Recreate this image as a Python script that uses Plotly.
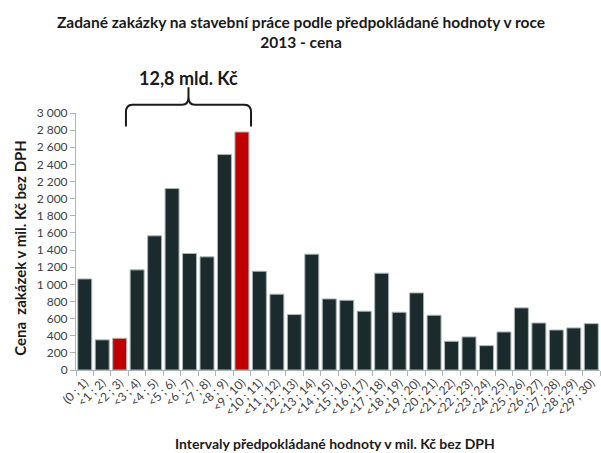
import plotly.graph_objects as go

categories = ["(0 ; 1)"] + [f"<{i} ; {i+1})" for i in range(1, 30)]
values = [1063, 352, 370, 1169, 1566, 2118, 1360, 1321, 2515, 2778,
          1153, 885, 647, 1352, 830, 814, 686, 1130, 674, 900,
          639, 335, 386, 284, 444, 725, 549, 467, 491, 541]
highlight = [2, 9]
y_ticks = list(range(0, 3001, 200))
y_tick_labels = [f"{v:,}".replace(",", " ") for v in y_ticks]

DARK = "#1b2a2c"
RED = "#c00000"
colors = [RED if i in highlight else DARK for i in range(len(values))]

FONT = "Lato, 'Open Sans', sans-serif"

fig = go.Figure(go.Bar(
    x=categories, y=values,
    marker=dict(color=colors, line=dict(color="#a9b6b6", width=1)),
))

fig.update_layout(
    width=601, height=453,
    margin=dict(l=76, r=1, t=113, b=83, autoexpand=False),
    paper_bgcolor="white", plot_bgcolor="white",
    bargap=0.2,
    showlegend=False,
    font=dict(family=FONT, color="#404040", size=11),
    xaxis=dict(
        type="category", tickangle=-45, showgrid=False, automargin=False,
        showline=True, linecolor="#a9b6b6", linewidth=1,
        ticks="outside", tickson="boundaries", ticklen=5, tickcolor="#a9b6b6",
        tickfont=dict(family=FONT, size=12, color="#404040"),
    ),
    yaxis=dict(
        range=[0, 3000], showgrid=False, zeroline=False, automargin=False,
        showline=True, linecolor="#a9b6b6", linewidth=1,
        ticks="outside", ticklen=5, tickcolor="#a9b6b6",
        tickvals=y_ticks, ticktext=y_tick_labels,
        tickfont=dict(family=FONT, size=12, color="#404040"),
    ),
)

# title as annotation (centered on the page)
fig.add_annotation(
    text="<b>Zadané zakázky na stavební práce podle předpokládané hodnoty v roce<br>2013 - cena</b>",
    xref="paper", yref="paper", x=(301 - 76) / 524, y=(370 - 11) / 257,
    xanchor="center", yanchor="top", showarrow=False,
    font=dict(family=FONT, size=15.5, color="#1a1a1a"))

n = len(categories)
def dom(i):
    return (i + 0.5) / n

xl, xr = dom(2.36), dom(9.52)
xc = (xl + xr) / 2
yb, yt, ys = 0.947, 1.032, 1.10
cx, cy = 0.012, 0.03
path = (f"M {xl},{yb} L {xl},{yt-cy} Q {xl},{yt} {xl+cx},{yt} "
        f"L {xc-cx},{yt} Q {xc},{yt} {xc},{yt+cy} L {xc},{ys} "
        f"M {xr},{yb} L {xr},{yt-cy} Q {xr},{yt} {xr-cx},{yt} "
        f"L {xc+cx},{yt} Q {xc},{yt} {xc},{yt+cy}")
fig.add_shape(type="path", path=path, xref="x domain", yref="y domain",
              line=dict(color="#1a1a1a", width=2))

fig.add_annotation(text="<b>12,8 mld. Kč</b>", xref="x domain", yref="y domain",
                   x=xc, y=1.137, xanchor="center", yanchor="middle", showarrow=False,
                   font=dict(family=FONT, size=18, color="#1a1a1a"))

fig.add_annotation(text="<b>Cena  zakázek v mil. Kč bez DPH</b>", xref="paper", yref="paper",
                   x=-0.107, y=0.475, xanchor="center", yanchor="middle", textangle=-90,
                   showarrow=False, font=dict(family=FONT, size=15, color="#1a1a1a"))

fig.add_annotation(text="<b>Intervaly předpokládané hodnoty v mil. Kč bez DPH</b>",
                   xref="paper", yref="paper", x=0.494, y=(370 - 444) / 257,
                   xanchor="center", yanchor="middle", showarrow=False,
                   font=dict(family=FONT, size=14, color="#1a1a1a"))

fig.write_html("out.html", config={"displayModeBar": False},
               post_script="document.body.style.margin='0';")
